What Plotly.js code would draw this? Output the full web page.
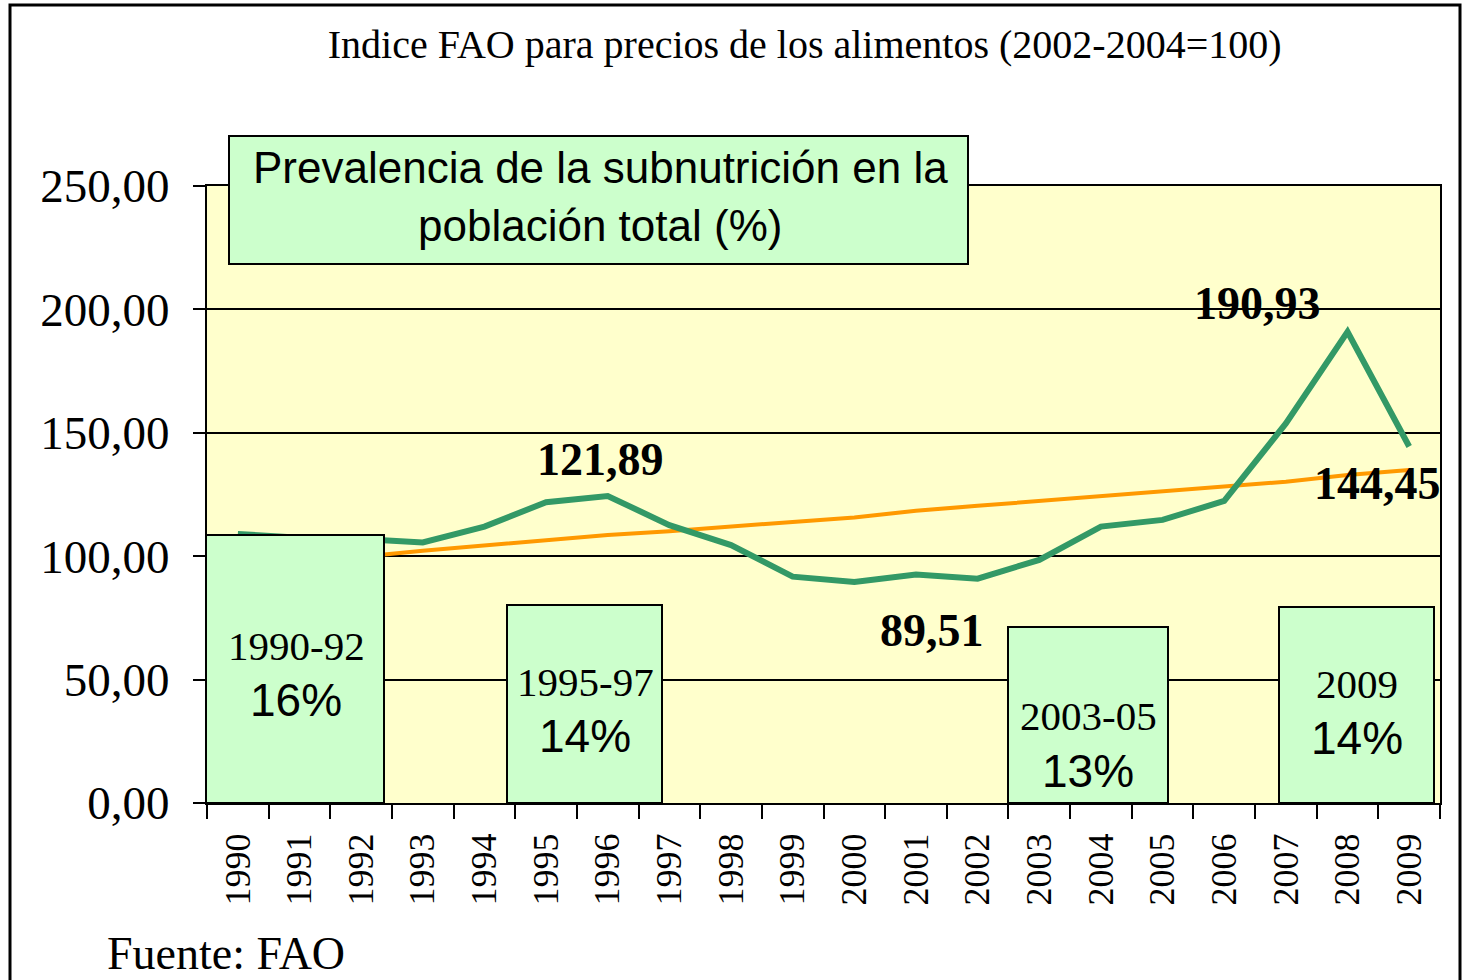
<!DOCTYPE html>
<html>
<head>
<meta charset="utf-8">
<script src="https://cdn.plot.ly/plotly-3.0.1.min.js"></script>
<style>html,body{margin:0;padding:0;background:#fff;}#chart{width:1463px;height:980px;}</style>
</head>
<body>
<div id="chart"></div>
<script>
// ---- data ----
var years = ["1990","1991","1992","1993","1994","1995","1996","1997","1998","1999",
             "2000","2001","2002","2003","2004","2005","2006","2007","2008","2009"];
var foodIndex = [109.0,107.5,107.0,105.6,112.0,121.89,124.4,112.6,104.5,91.7,
                 89.51,92.6,90.9,98.5,112.0,114.7,122.4,153.8,190.93,144.45];
var trendIndex = [96.0,97.9,99.8,102.2,104.3,106.6,108.6,110.1,112.2,113.9,
                  115.7,118.4,120.4,122.4,124.4,126.1,128.1,130.2,132.9,134.9];
var labelledYears = ["1995","2000","2008","2009"];
var yTicks = [0,50,100,150,200,250];
var periodLabels = ["1990-92","1995-97","2003-05","2009"];
var periodValues = ["16%","14%","13%","14%"];
var chartTitle = "Indice FAO para precios de los alimentos (2002-2004=100)";
var boxTitle = ["Prevalencia de la subnutrición en la","población total (%)"];
var sourceText = "Fuente: FAO";

// ---- layout helpers (pixel -> paper) ----
var L = 207, R = 1440, T = 186, B = 803;
function px(x){ return (x - L) / (R - L); }
function py(y){ return (B - y) / (B - T); }
var serif = "Liberation Serif, Times New Roman, serif";
var sans = "Liberation Sans, Arial, sans-serif";

function fmt(v){ return v.toFixed(2).replace('.', ','); }

var traces = [
  {x: years, y: trendIndex, type: 'scatter', mode: 'lines',
   line: {color: '#ff9900', width: 4}, hoverinfo: 'skip'},
  {x: years, y: foodIndex, type: 'scatter', mode: 'lines',
   line: {color: '#339966', width: 6}, hoverinfo: 'skip'}
];

// green period boxes (pixel rects)
var boxRects = [[206,535,384,803],[507,605,662,803],[1008,627,1168,803],[1279,607,1434,803]];
var periodPos = [[296,646,700],[585,682,736],[1088,716,771],[1357,684,738]];

var shapes = [];
boxRects.forEach(function(r){
  shapes.push({type:'rect', xref:'paper', yref:'paper', layer:'above',
    x0:px(r[0]), x1:px(r[2]), y0:py(r[3]), y1:py(r[1]),
    fillcolor:'#ccffcc', line:{color:'#000', width:2}});
});
// title box
shapes.push({type:'rect', xref:'paper', yref:'paper', layer:'above',
  x0:px(229), x1:px(968), y0:py(264), y1:py(136),
  fillcolor:'#ccffcc', line:{color:'#000', width:2}});
// outer frame
shapes.push({type:'rect', xref:'paper', yref:'paper', layer:'above',
  x0:px(10), x1:px(1460), y0:py(1000), y1:py(5),
  fillcolor:'rgba(0,0,0,0)', line:{color:'#000', width:3}});

var annotations = [];
periodLabels.forEach(function(t,i){
  var p = periodPos[i];
  annotations.push({xref:'paper', yref:'paper', x:px(p[0]), y:py(p[1]), text:t,
    showarrow:false, xanchor:'center', yanchor:'middle',
    font:{family:serif, size:41, color:'#000'}});
  annotations.push({xref:'paper', yref:'paper', x:px(p[0]), y:py(p[2]), text:periodValues[i],
    showarrow:false, xanchor:'center', yanchor:'middle',
    font:{family:sans, size:46, color:'#000'}});
});
boxTitle.forEach(function(t,i){
  annotations.push({xref:'paper', yref:'paper', x:px(600), y:py(168 + i*58), text:t,
    showarrow:false, xanchor:'center', yanchor:'middle',
    font:{family:sans, size:44, color:'#000'}});
});
// data labels (anchored on the data point, offset in pixels)
var labelShift = {"1995":[54,43], "2000":[78,-48], "2008":[-90,28], "2009":[-32,-37]};
labelledYears.forEach(function(yr){
  var i = years.indexOf(yr);
  annotations.push({x:i, y:foodIndex[i], xref:'x', yref:'y', text:'<b>'+fmt(foodIndex[i])+'</b>',
    showarrow:false, xanchor:'center', yanchor:'middle',
    xshift:labelShift[yr][0], yshift:labelShift[yr][1],
    font:{family:serif, size:46, color:'#000'}});
});
// source
annotations.push({xref:'paper', yref:'paper', x:px(105), y:py(953), text:sourceText,
  showarrow:false, xanchor:'left', yanchor:'middle',
  font:{family:serif, size:46, color:'#000'}});

var layout = {
  width:1463, height:980,
  margin:{l:L, r:1463-R, t:T, b:980-B, pad:0},
  paper_bgcolor:'#ffffff', plot_bgcolor:'#ffffcc',
  separators:',.',
  showlegend:false,
  title:{text:chartTitle, xref:'container', yref:'container', x:0.55, y:0.955,
    xanchor:'center', yanchor:'middle', font:{family:serif, size:40, color:'#000'}},
  xaxis:{type:'category', tickson:'boundaries', ticks:'outside', ticklen:14, tickwidth:2, tickcolor:'#000',
    tickangle:-90, showline:true, linecolor:'#000', linewidth:2, mirror:true, showgrid:false,
    ticklabelstandoff:14,
    tickfont:{family:serif, size:36, color:'#000'}, range:[-0.5,19.5], fixedrange:true},
  yaxis:{range:[0,250], tickvals:yTicks, tickformat:'.2f', ticks:'outside', ticklen:12, tickwidth:2,
    tickcolor:'#000', showline:true, linecolor:'#000', linewidth:2, mirror:true,
    showgrid:true, gridcolor:'#000', gridwidth:2, zeroline:false,
    ticklabelstandoff:14,
    tickfont:{family:serif, size:47, color:'#000'}, fixedrange:true},
  shapes:shapes, annotations:annotations
};

Plotly.newPlot('chart', traces, layout, {staticPlot:true, displayModeBar:false});
</script>
</body>
</html>
